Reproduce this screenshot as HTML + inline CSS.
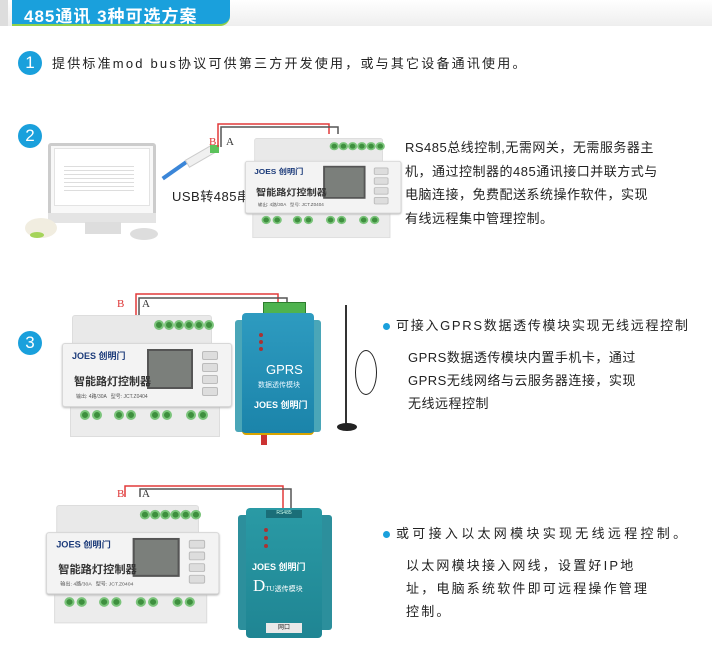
<!DOCTYPE html>
<html><head><meta charset="utf-8"><style>
*{margin:0;padding:0;box-sizing:border-box}
body{width:712px;height:656px;background:#fff;position:relative;overflow:hidden;font-family:"Liberation Sans","Noto Sans CJK SC",sans-serif;color:#222}
.a{position:absolute}
.num{position:absolute;width:24px;height:24px;border-radius:50%;background:#1aa0dc;color:#fff;font-size:17px;text-align:center;line-height:24px}
.t{position:absolute;font-size:13px;line-height:23px;letter-spacing:.5px;white-space:nowrap}
.ctl{position:absolute;width:170px;height:125px;transform-origin:0 0}
.ctl .back{position:absolute;left:10px;top:0;width:140px;height:34px;background:#e9e9e9;border:1px solid #ddd;border-radius:3px}
.ctl .front{position:absolute;left:0;top:28px;width:170px;height:64px;background:#f3f3f3;border:1px solid #d8d8d8;border-radius:3px;box-shadow:0 1px 2px #bbb}
.ctl .bot{position:absolute;left:8px;top:90px;width:150px;height:32px;background:#ececec;border:1px solid #ddd}
.g{position:absolute;width:10px;height:10px;border-radius:50%;background:#3e8f3e;border:2px solid #7bc47b}
.ctl .scr{position:absolute;left:85px;top:34px;width:46px;height:40px;background:#7b7f7b;border:2px solid #555}
.ctl .btn{position:absolute;left:140px;width:16px;height:9px;background:#ddd;border:1px solid #bbb;border-radius:2px}
.ctl .ttl{position:absolute;left:12px;top:58px;font-size:11px;font-weight:bold;color:#333}
.ctl .logo{position:absolute;left:10px;top:34px;font-size:9px;font-weight:bold;color:#1c3b7a}
.ctl .sm{position:absolute;left:14px;top:78px;font-size:5px;color:#555}
</style></head><body>
<div class="a" style="left:0;top:0;width:712px;height:26px;background:linear-gradient(#fff,#eee)"></div>
<div class="a" style="left:0;top:0;width:8px;height:26px;background:#ddd"></div>
<div class="a" style="left:12px;top:0;width:218px;height:26px;background:#1aa0dc;border-bottom:2px solid #8fd04a;border-radius:0 0 10px 0"></div>
<div class="a" style="left:24px;top:2px;color:#fff;font-size:17px;font-weight:bold;letter-spacing:1px">485通讯 3种可选方案</div>

<div class="num" style="left:18px;top:51px">1</div>
<div class="t" style="left:52px;top:52px;letter-spacing:2.2px">提供标准mod bus协议可供第三方开发使用，或与其它设备通讯使用。</div>

<div class="num" style="left:18px;top:124px">2</div>
<div class="a" style="left:48px;top:143px;width:108px;height:75px;background:#f8f8f8;border:3px solid #ccc;border-radius:3px"></div>
<div class="a" style="left:54px;top:148px;width:96px;height:58px;background:#fff;border:1px solid #e3e3e3"></div>
<div class="a" style="left:64px;top:163px;width:70px;height:28px;background:repeating-linear-gradient(#fff 0 3px,#ddd 3px 4px)"></div>
<div class="a" style="left:48px;top:213px;width:108px;height:10px;background:#e4e4e4"></div>
<div class="a" style="left:85px;top:222px;width:36px;height:12px;background:#ddd"></div>
<div class="a" style="left:130px;top:228px;width:28px;height:12px;background:#ddd;border-radius:50%"></div>
<div class="a" style="left:25px;top:218px;width:32px;height:20px;background:#f1ede0;border-radius:50%"></div>
<div class="a" style="left:30px;top:232px;width:14px;height:6px;background:#a5d45a;border-radius:50%"></div>
<div class="a" style="left:160px;top:168px;width:30px;height:4px;background:#3b86d8;transform:rotate(-35deg)"></div>
<div class="a" style="left:185px;top:152px;width:30px;height:9px;background:#f0f0f0;border:1px solid #ccc;transform:rotate(-30deg)"></div>
<div class="a" style="left:210px;top:145px;width:9px;height:8px;background:#5bc25b"></div>
<svg class="a" style="left:0;top:0" width="712" height="656">
<polyline points="218,147 218,124 329,124 329,134" fill="none" stroke="#e23a3a" stroke-width="1.5"/>
<polyline points="221,147 221,127 338,127 338,134" fill="none" stroke="#555" stroke-width="1.5"/>
<polyline points="136,318 136,294 278,294 278,302" fill="none" stroke="#e23a3a" stroke-width="1.5"/>
<polyline points="139,318 139,298 287,298 287,302" fill="none" stroke="#555" stroke-width="1.5"/>
<polyline points="125,497 125,486 283,486 283,510" fill="none" stroke="#e23a3a" stroke-width="1.5"/>
<polyline points="140,497 140,489 291,489 291,510" fill="none" stroke="#555" stroke-width="1.5"/>
</svg>
<div class="a" style="left:209px;top:136px;font-size:11px;color:#d33;font-family:'Liberation Serif',serif">B</div>
<div class="a" style="left:226px;top:136px;font-size:11px;color:#333;font-family:'Liberation Serif',serif">A</div>
<div class="a" style="left:172px;top:186px;font-size:13px;letter-spacing:.5px">USB转485串</div>

<div class="ctl" style="left:245px;top:138px;transform:scale(.92,.82)">
<div class="back"></div><div class="g" style="left:92px;top:5px"></div><div class="g" style="left:102px;top:5px"></div><div class="g" style="left:112px;top:5px"></div><div class="g" style="left:122px;top:5px"></div><div class="g" style="left:132px;top:5px"></div><div class="g" style="left:142px;top:5px"></div>
<div class="bot"></div><div class="front"></div>
<div class="logo">JOES 创明门</div><div class="scr"></div>
<div class="btn" style="top:36px"></div><div class="btn" style="top:48px"></div><div class="btn" style="top:60px"></div><div class="btn" style="top:72px"></div>
<div class="ttl">智能路灯控制器</div><div class="sm">输出: 4路/30A &nbsp; 型号: JCT.Z0404</div>
<div class="g" style="left:18px;top:95px"></div><div class="g" style="left:30px;top:95px"></div><div class="g" style="left:52px;top:95px"></div><div class="g" style="left:64px;top:95px"></div><div class="g" style="left:88px;top:95px"></div><div class="g" style="left:100px;top:95px"></div><div class="g" style="left:124px;top:95px"></div><div class="g" style="left:136px;top:95px"></div>
</div>
<div class="t" style="left:405px;top:136px;line-height:23.5px">RS485总线控制,无需网关，无需服务器主<br>机，通过控制器的485通讯接口并联方式与<br>电脑连接，免费配送系统操作软件，实现<br>有线远程集中管理控制。</div>

<div class="num" style="left:18px;top:331px">3</div>
<div class="a" style="left:117px;top:298px;font-size:11px;color:#d33;font-family:'Liberation Serif',serif">B</div>
<div class="a" style="left:142px;top:298px;font-size:11px;color:#333;font-family:'Liberation Serif',serif">A</div>
<div class="ctl" style="left:62px;top:315px">
<div class="back"></div><div class="g" style="left:92px;top:5px"></div><div class="g" style="left:102px;top:5px"></div><div class="g" style="left:112px;top:5px"></div><div class="g" style="left:122px;top:5px"></div><div class="g" style="left:132px;top:5px"></div><div class="g" style="left:142px;top:5px"></div>
<div class="bot"></div><div class="front"></div>
<div class="logo">JOES 创明门</div><div class="scr"></div>
<div class="btn" style="top:36px"></div><div class="btn" style="top:48px"></div><div class="btn" style="top:60px"></div><div class="btn" style="top:72px"></div>
<div class="ttl">智能路灯控制器</div><div class="sm">输出: 4路/30A &nbsp; 型号: JCT.Z0404</div>
<div class="g" style="left:18px;top:95px"></div><div class="g" style="left:30px;top:95px"></div><div class="g" style="left:52px;top:95px"></div><div class="g" style="left:64px;top:95px"></div><div class="g" style="left:88px;top:95px"></div><div class="g" style="left:100px;top:95px"></div><div class="g" style="left:124px;top:95px"></div><div class="g" style="left:136px;top:95px"></div>
</div>
<div class="a" style="left:263px;top:302px;width:43px;height:12px;background:#4fb34f;border:1px solid #2e7d2e"></div>
<div class="a" style="left:235px;top:320px;width:86px;height:112px;background:#4aa6b8;border-radius:3px"></div>
<div class="a" style="left:242px;top:313px;width:72px;height:122px;background:linear-gradient(#2e9bc0,#1b84aa);border-radius:4px;border-bottom:2px solid #d9a400"></div>
<div class="a" style="left:259px;top:333px;width:4px;height:4px;background:#a33;border-radius:50%;box-shadow:0 7px #a33,0 14px #a33"></div>
<div class="a" style="left:266px;top:362px;color:#fff;font-size:13px">GPRS</div>
<div class="a" style="left:258px;top:380px;color:#e8f6ff;font-size:7px">数据透传模块</div>
<div class="a" style="left:254px;top:398px;color:#fff;font-size:9px;font-weight:bold">JOES 创明门</div>
<div class="a" style="left:261px;top:435px;width:6px;height:10px;background:#c33"></div>
<div class="a" style="left:345px;top:305px;width:2px;height:120px;background:#333"></div>
<div class="a" style="left:337px;top:423px;width:20px;height:8px;background:#222;border-radius:50%"></div>
<div class="a" style="left:355px;top:350px;width:22px;height:45px;border:1.5px solid #222;border-radius:50%"></div>
<div class="a" style="left:383px;top:323px;width:7px;height:7px;border-radius:50%;background:#1aa0dc"></div>
<div class="t" style="left:396px;top:314px;letter-spacing:1.7px">可接入GPRS数据透传模块实现无线远程控制</div>
<div class="t" style="left:408px;top:346px">GPRS数据透传模块内置手机卡，通过<br>GPRS无线网络与云服务器连接，实现<br>无线远程控制</div>

<div class="a" style="left:117px;top:488px;font-size:11px;color:#d33;font-family:'Liberation Serif',serif">B</div>
<div class="a" style="left:142px;top:488px;font-size:11px;color:#333;font-family:'Liberation Serif',serif">A</div>
<div class="ctl" style="left:46px;top:505px;transform:scale(1.02,.97)">
<div class="back"></div><div class="g" style="left:92px;top:5px"></div><div class="g" style="left:102px;top:5px"></div><div class="g" style="left:112px;top:5px"></div><div class="g" style="left:122px;top:5px"></div><div class="g" style="left:132px;top:5px"></div><div class="g" style="left:142px;top:5px"></div>
<div class="bot"></div><div class="front"></div>
<div class="logo">JOES 创明门</div><div class="scr"></div>
<div class="btn" style="top:36px"></div><div class="btn" style="top:48px"></div><div class="btn" style="top:60px"></div><div class="btn" style="top:72px"></div>
<div class="ttl">智能路灯控制器</div><div class="sm">输出: 4路/30A &nbsp; 型号: JCT.Z0404</div>
<div class="g" style="left:18px;top:95px"></div><div class="g" style="left:30px;top:95px"></div><div class="g" style="left:52px;top:95px"></div><div class="g" style="left:64px;top:95px"></div><div class="g" style="left:88px;top:95px"></div><div class="g" style="left:100px;top:95px"></div><div class="g" style="left:124px;top:95px"></div><div class="g" style="left:136px;top:95px"></div>
</div>
<div class="a" style="left:238px;top:515px;width:94px;height:115px;background:#2c8f9c;border-radius:3px"></div>
<div class="a" style="left:246px;top:508px;width:76px;height:130px;background:linear-gradient(#2a9aa5,#1f8593);border-radius:4px"></div>
<div class="a" style="left:266px;top:510px;width:36px;height:8px;background:#1a6e78;color:#cfe;font-size:5px;text-align:center">RS485</div>
<div class="a" style="left:264px;top:528px;width:4px;height:4px;background:#a33;border-radius:50%;box-shadow:0 8px #a33,0 16px #a33"></div>
<div class="a" style="left:252px;top:560px;color:#fff;font-size:9px;font-weight:bold">JOES 创明门</div>
<div class="a" style="left:253px;top:576px;color:#fff;font-size:17px;font-family:'Liberation Serif',serif">D<span style="font-size:7px">TU透传模块</span></div>
<div class="a" style="left:266px;top:623px;width:36px;height:10px;background:#e9e9e9;font-size:6px;text-align:center;line-height:10px">网口</div>
<div class="a" style="left:383px;top:531px;width:7px;height:7px;border-radius:50%;background:#1aa0dc"></div>
<div class="t" style="left:396px;top:522px;letter-spacing:3.3px">或可接入以太网模块实现无线远程控制。</div>
<div class="t" style="left:406px;top:554px;letter-spacing:2.2px">以太网模块接入网线，设置好IP地<br>址，电脑系统软件即可远程操作管理<br>控制。</div>
</body></html>
